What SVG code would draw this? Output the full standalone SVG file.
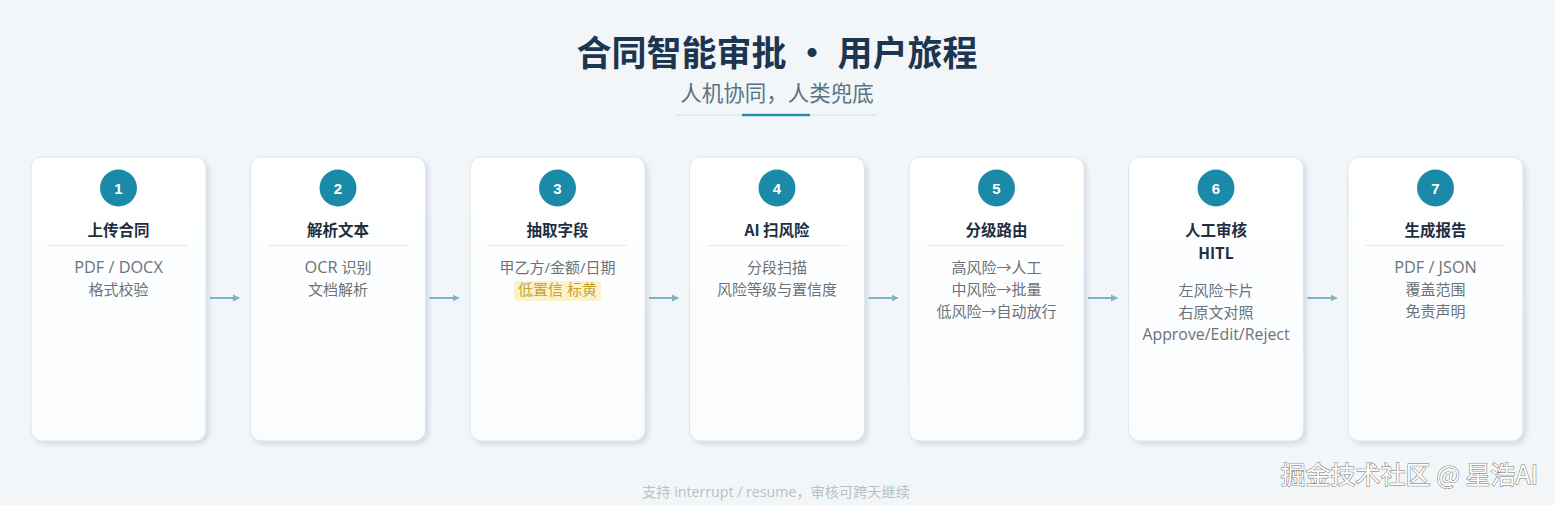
<svg xmlns="http://www.w3.org/2000/svg" width="1555" height="505" viewBox="0 0 1555 505">
<style>
.bg{fill:#f3f6f8}
.card{fill:url(#cardg);stroke:#dfe5ea;stroke-width:1}
.num{fill:#1a8aa8}
.numt{font-family:"Liberation Sans","Noto Sans CJK SC",sans-serif;font-size:15px;font-weight:bold;fill:#fff;text-anchor:middle}
.ttl{font-family:"Noto Sans CJK SC",sans-serif;font-size:15.5px;font-weight:bold;fill:#1f2f3f;text-anchor:middle}
.div{stroke:#e5eaee;stroke-width:1}
.body{font-family:"Open Sans","Noto Sans CJK SC",sans-serif;font-size:15px;fill:#6c7276;text-anchor:middle}
.lat{font-size:16.3px}
.conn line{stroke:#7fb2c9;stroke-width:2}
</style>
<defs>
<linearGradient id="cardg" x1="0" y1="0" x2="0" y2="1">
<stop offset="0" stop-color="#ffffff"/>
<stop offset="1" stop-color="#fafcfe"/>
</linearGradient>
<linearGradient id="bgg" x1="0" y1="0" x2="0" y2="1">
<stop offset="0" stop-color="#f6f8fa"/>
<stop offset="1" stop-color="#f1f4f6"/>
</linearGradient>
<linearGradient id="fade" x1="0" y1="0" x2="1" y2="0">
<stop offset="0" stop-color="#e5eaee" stop-opacity="0"/>
<stop offset="0.2" stop-color="#e5eaee"/>
<stop offset="0.8" stop-color="#e5eaee"/>
<stop offset="1" stop-color="#e5eaee" stop-opacity="0"/>
</linearGradient>
<filter id="sh" x="-10%" y="-10%" width="130%" height="130%">
<feDropShadow dx="3" dy="3" stdDeviation="2.5" flood-color="#9aa8c8" flood-opacity="0.35"/>
</filter>
<marker id="ah" markerWidth="8" markerHeight="8" refX="6" refY="4" orient="auto" markerUnits="userSpaceOnUse">
<path d="M0,0.5 L7,4 L0,7.5 Z" fill="#7fb2c9"/>
</marker>
</defs>
<rect class="bg" width="1555" height="505" fill="url(#bgg)"/>

<g id="header">
<text x="777" y="66" font-family="Noto Sans CJK SC,sans-serif" font-size="35" font-weight="bold" fill="#1c3550" text-anchor="middle">合同智能审批 · 用户旅程</text>
<text x="777" y="101" font-family="Noto Sans CJK SC,sans-serif" font-size="21.5" fill="#587386" text-anchor="middle">人机协同，人类兜底</text>
<line x1="676" y1="115" x2="877" y2="115" stroke="#d6dee3" stroke-width="1.2"/>
<line x1="742" y1="115" x2="810" y2="115" stroke="#2a8fae" stroke-width="2.5"/>
</g>

<g id="node1">
<rect class="card" x="31" y="157" width="175" height="284" rx="11" filter="url(#sh)"/>
<circle class="num" cx="118.5" cy="188" r="18.5"/>
<text class="numt" x="118.5" y="193.5">1</text>
<text class="ttl" x="118.5" y="236">上传合同</text>
<line class="div" x1="48" y1="245.5" x2="188" y2="245.5"/>
<text class="body lat" x="118.5" y="273">PDF / DOCX</text>
<text class="body" x="118.5" y="295">格式校验</text>
</g>

<g id="node2">
<rect class="card" x="250.5" y="157" width="175" height="284" rx="11" filter="url(#sh)"/>
<circle class="num" cx="338" cy="188" r="18.5"/>
<text class="numt" x="338" y="193.5">2</text>
<text class="ttl" x="338" y="236">解析文本</text>
<line class="div" x1="268" y1="245.5" x2="408" y2="245.5"/>
<text class="body" x="338" y="273"><tspan class="lat">OCR</tspan> 识别</text>
<text class="body" x="338" y="295">文档解析</text>
</g>

<g id="node3">
<rect class="card" x="470" y="157" width="175" height="284" rx="11" filter="url(#sh)"/>
<circle class="num" cx="557.5" cy="188" r="18.5"/>
<text class="numt" x="557.5" y="193.5">3</text>
<text class="ttl" x="557.5" y="236">抽取字段</text>
<line class="div" x1="487" y1="245.5" x2="627" y2="245.5"/>
<text class="body" x="557.5" y="273">甲乙方/金额/日期</text>
<rect x="514" y="281" width="87" height="20" rx="4" fill="#fcf0c0" opacity="0.85"/>
<text class="body" x="557.5" y="295" style="fill:#c9a132">低置信 标黄</text>
</g>

<g id="node4">
<rect class="card" x="689.5" y="157" width="175" height="284" rx="11" filter="url(#sh)"/>
<circle class="num" cx="777" cy="188" r="18.5"/>
<text class="numt" x="777" y="193.5">4</text>
<text class="ttl" x="777" y="236">AI 扫风险</text>
<line class="div" x1="707" y1="245.5" x2="847" y2="245.5"/>
<text class="body" x="777" y="273">分段扫描</text>
<text class="body" x="777" y="295">风险等级与置信度</text>
</g>

<g id="node5">
<rect class="card" x="909" y="157" width="175" height="284" rx="11" filter="url(#sh)"/>
<circle class="num" cx="996.5" cy="188" r="18.5"/>
<text class="numt" x="996.5" y="193.5">5</text>
<text class="ttl" x="996.5" y="236">分级路由</text>
<line class="div" x1="926" y1="245.5" x2="1066" y2="245.5"/>
<text class="body" x="996.5" y="273">高风险→人工</text>
<text class="body" x="996.5" y="295">中风险→批量</text>
<text class="body" x="996.5" y="317">低风险→自动放行</text>
</g>

<g id="node6">
<rect class="card" x="1128.5" y="157" width="175" height="284" rx="11" filter="url(#sh)"/>
<circle class="num" cx="1216" cy="188" r="18.5"/>
<text class="numt" x="1216" y="193.5">6</text>
<text class="ttl" x="1216" y="236">人工审核</text>
<text class="ttl" x="1216" y="259">HITL</text>
<line x1="1146" y1="268.5" x2="1286" y2="268.5" stroke="url(#fade)" stroke-width="1"/>
<text class="body" x="1216" y="296">左风险卡片</text>
<text class="body" x="1216" y="318">右原文对照</text>
<text class="body" x="1216" y="340" style="font-size:15.9px">Approve/Edit/Reject</text>
</g>

<g id="node7">
<rect class="card" x="1348" y="157" width="175" height="284" rx="11" filter="url(#sh)"/>
<circle class="num" cx="1435.5" cy="188" r="18.5"/>
<text class="numt" x="1435.5" y="193.5">7</text>
<text class="ttl" x="1435.5" y="236">生成报告</text>
<line class="div" x1="1365" y1="245.5" x2="1505" y2="245.5"/>
<text class="body lat" x="1435.5" y="273">PDF / JSON</text>
<text class="body" x="1435.5" y="295">覆盖范围</text>
<text class="body" x="1435.5" y="317">免责声明</text>
</g>

<g id="connectors" class="conn">
<line x1="210" y1="298" x2="239" y2="298" marker-end="url(#ah)"/>
<line x1="429.5" y1="298" x2="458.5" y2="298" marker-end="url(#ah)"/>
<line x1="649" y1="298" x2="678" y2="298" marker-end="url(#ah)"/>
<line x1="868.5" y1="298" x2="897.5" y2="298" marker-end="url(#ah)"/>
<line x1="1088" y1="298" x2="1117" y2="298" marker-end="url(#ah)"/>
<line x1="1307.5" y1="298" x2="1336.5" y2="298" marker-end="url(#ah)"/>
</g>

<g id="footer">
<text x="776" y="497" font-family="Open Sans,Noto Sans CJK SC,sans-serif" font-size="14.2" fill="#b7c0c6" text-anchor="middle">支持 interrupt / resume，审核可跨天继续</text>
<text x="1538" y="484" font-family="Noto Sans CJK SC,sans-serif" font-size="25" fill="#ffffff" stroke="#707070" stroke-width="1" paint-order="stroke" text-anchor="end">掘金技术社区 @ 星浩AI</text>
</g>
</svg>
